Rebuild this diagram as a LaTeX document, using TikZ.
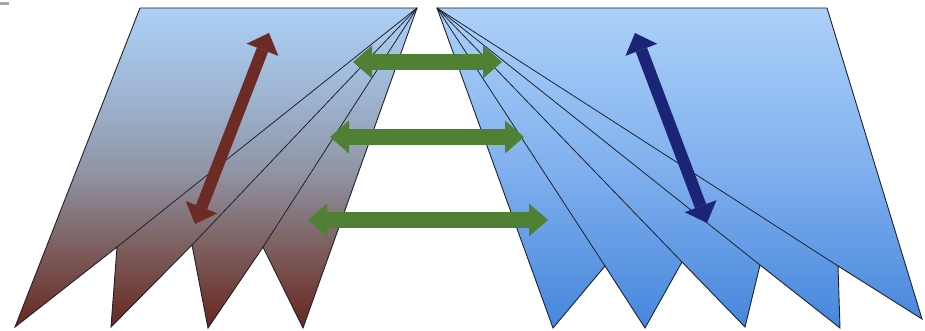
\documentclass[tikz,border=0pt]{standalone}
\usetikzlibrary{arrows.meta}
\definecolor{lbot}{RGB}{104,38,32}
\definecolor{lq1}{RGB}{124,92,90}
\definecolor{lmid}{RGB}{145,150,168}
\definecolor{lq3}{RGB}{158,182,212}
\definecolor{ltop}{RGB}{172,208,246}
\definecolor{rbot}{RGB}{70,134,220}
\definecolor{rmid}{RGB}{128,176,238}
\definecolor{rtop}{RGB}{172,209,249}
\definecolor{edgec}{RGB}{30,34,44}
\definecolor{greenc}{RGB}{80,128,52}
\definecolor{brownc}{RGB}{108,44,37}
\definecolor{navyc}{RGB}{28,36,118}
\pgfdeclareverticalshading{leftshade}{100bp}{color(0bp)=(lbot); color(25bp)=(lbot); color(37bp)=(lq1); color(50bp)=(lmid); color(62bp)=(lq3); color(75bp)=(ltop); color(100bp)=(ltop)}
\pgfdeclareverticalshading{rightshade}{100bp}{color(0bp)=(rbot); color(25bp)=(rbot); color(50bp)=(rmid); color(75bp)=(rtop); color(100bp)=(rtop)}
\tikzset{
  fan/.style={draw=edgec, line width=0.9pt, line join=miter},
  fold/.style={draw=edgec, line width=0.8pt},
  thinarrow/.style={line width=12pt, {Triangle[width=34pt,length=18pt,line width=0pt]}-{Triangle[width=34pt,length=18pt,line width=0pt]}},
  greenarrow/.style={draw=greenc, line width=16pt, {Triangle[width=33pt,length=19pt,line width=0pt]}-{Triangle[width=33pt,length=19pt,line width=0pt]}}
}
\begin{document}
\begin{tikzpicture}[x=1pt,y=-1pt]
\useasboundingbox (0,0) rectangle (925,331);
\fill[white] (0,0) rectangle (925,331);
\fill[gray!70] (0,2.5) rectangle (9,5);
% left fan
\coordinate (LA) at (417,8);
\coordinate (LTL) at (140,8);
\coordinate (L1) at (15,327);
\coordinate (N1) at (117,247);
\coordinate (L2) at (111,327);
\coordinate (N2) at (192,245);
\coordinate (L3) at (208,328);
\coordinate (N3) at (263,247);
\coordinate (L4) at (303,328);
\shade[shading=leftshade] (LTL) -- (LA) -- (L4) -- (N3) -- (L3) -- (N2) -- (L2) -- (N1) -- (L1) -- cycle;
\draw[fan] (LTL) -- (LA) -- (L4) -- (N3) -- (L3) -- (N2) -- (L2) -- (N1) -- (L1) -- cycle;
\draw[fold] (LA) -- (N1);
\draw[fold] (LA) -- (N2);
\draw[fold] (LA) -- (N3);
% right fan
\coordinate (RA) at (437,8);
\coordinate (RTR) at (827,8);
\coordinate (R5) at (922,319);
\coordinate (M4) at (838,266);
\coordinate (R4) at (840,328);
\coordinate (M3) at (760,265);
\coordinate (R3) at (745,327);
\coordinate (M2) at (682,262);
\coordinate (R2) at (645,328);
\coordinate (M1) at (605,266);
\coordinate (R1) at (553,328);
\shade[shading=rightshade] (RA) -- (RTR) -- (R5) -- (M4) -- (R4) -- (M3) -- (R3) -- (M2) -- (R2) -- (M1) -- (R1) -- cycle;
\draw[fan] (RA) -- (RTR) -- (R5) -- (M4) -- (R4) -- (M3) -- (R3) -- (M2) -- (R2) -- (M1) -- (R1) -- cycle;
\draw[fold] (RA) -- (M1);
\draw[fold] (RA) -- (M2);
\draw[fold] (RA) -- (M3);
\draw[fold] (RA) -- (M4);
% arrows
\coordinate (BT) at (269,33);
\coordinate (BB) at (195,224);
\coordinate (VT) at (635,33);
\coordinate (VB) at (707,223);
\draw[thinarrow, draw=brownc] (BT) -- (BB);
\draw[thinarrow, draw=navyc] (VT) -- (VB);
\coordinate (G1L) at (353,62);
\coordinate (G1R) at (502,62);
\coordinate (G2L) at (330,137);
\coordinate (G2R) at (524,137);
\coordinate (G3L) at (308,220);
\coordinate (G3R) at (548,220);
\draw[greenarrow] (G1L) -- (G1R);
\draw[greenarrow] (G2L) -- (G2R);
\draw[greenarrow] (G3L) -- (G3R);
\end{tikzpicture}
\end{document}
